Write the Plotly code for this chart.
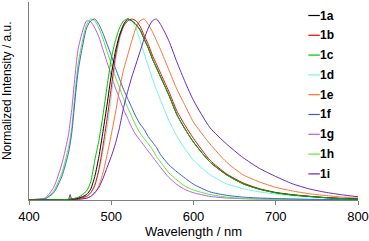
import plotly.graph_objects as go

wavelength = [400, 410, 420, 430, 440, 448, 450, 452, 460, 470, 475, 480, 485, 490, 495, 500,
              505, 510, 515, 520, 525, 530, 535, 540, 545, 550, 555, 560, 570, 580, 590, 600,
              620, 640, 660, 680, 700, 720, 740, 760, 780, 800]

s1a = [0, 0, 0, 0.001, 0.002, 0.003, 0.004, 0.005, 0.01, 0.03, 0.06, 0.13, 0.24, 0.38, 0.53, 0.69,
       0.82, 0.91, 0.97, 1.0, 0.99, 0.97, 0.94, 0.89, 0.84, 0.78, 0.73, 0.68, 0.58, 0.47, 0.39, 0.32,
       0.21, 0.14, 0.09, 0.06, 0.04, 0.028, 0.02, 0.013, 0.008, 0.005]
s1b = [0, 0, 0, 0.001, 0.002, 0.003, 0.004, 0.005, 0.008, 0.02, 0.04, 0.08, 0.17, 0.30, 0.45, 0.62,
       0.79, 0.90, 0.96, 0.99, 1.0, 0.99, 0.96, 0.91, 0.86, 0.80, 0.75, 0.70, 0.60, 0.49, 0.41, 0.34,
       0.22, 0.145, 0.095, 0.063, 0.042, 0.03, 0.021, 0.014, 0.009, 0.006]
s1c = [0, 0, 0, 0.001, 0.002, 0.004, 0.005, 0.006, 0.015, 0.05, 0.10, 0.22, 0.33, 0.47, 0.63, 0.78,
       0.88, 0.95, 0.99, 1.0, 0.99, 0.97, 0.94, 0.89, 0.84, 0.78, 0.73, 0.68, 0.58, 0.47, 0.39, 0.32,
       0.21, 0.14, 0.09, 0.06, 0.04, 0.028, 0.02, 0.013, 0.008, 0.005]
s1d = [0, 0, 0, 0.001, 0.002, 0.003, 0.004, 0.004, 0.006, 0.02, 0.04, 0.09, 0.16, 0.27, 0.40, 0.57,
       0.76, 0.88, 0.96, 0.99, 0.99, 0.95, 0.88, 0.81, 0.74, 0.67, 0.61, 0.55, 0.44, 0.35, 0.28, 0.22,
       0.14, 0.09, 0.063, 0.045, 0.033, 0.024, 0.017, 0.012, 0.008, 0.005]
s1e = [0, 0, 0, 0.001, 0.002, 0.003, 0.003, 0.004, 0.005, 0.01, 0.02, 0.04, 0.08, 0.15, 0.25, 0.36,
       0.48, 0.61, 0.72, 0.80, 0.88, 0.95, 0.99, 1.0, 0.97, 0.93, 0.88, 0.83, 0.72, 0.61, 0.52, 0.43,
       0.31, 0.21, 0.14, 0.10, 0.07, 0.05, 0.035, 0.025, 0.016, 0.01]
s1f = [0.001, 0.003, 0.007, 0.04, 0.13, 0.26, 0.31, 0.37, 0.72, 0.95, 0.99, 1.0, 0.97, 0.92, 0.86, 0.80,
       0.73, 0.67, 0.61, 0.56, 0.51, 0.46, 0.42, 0.39, 0.35, 0.32, 0.29, 0.25, 0.195, 0.155, 0.12, 0.087,
       0.045, 0.026, 0.016, 0.011, 0.008, 0.006, 0.004, 0.003, 0.002, 0.002]
s1g = [0.002, 0.005, 0.012, 0.07, 0.20, 0.36, 0.43, 0.50, 0.84, 0.99, 0.985, 0.95, 0.90, 0.83, 0.76, 0.69,
       0.62, 0.56, 0.50, 0.45, 0.40, 0.36, 0.33, 0.30, 0.27, 0.24, 0.21, 0.18, 0.125, 0.085, 0.057, 0.04,
       0.02, 0.011, 0.007, 0.005, 0.004, 0.003, 0.002, 0.002, 0.001, 0.001]
s1h = [0.001, 0.003, 0.008, 0.05, 0.15, 0.29, 0.34, 0.40, 0.76, 0.97, 1.0, 0.99, 0.95, 0.89, 0.82, 0.75,
       0.68, 0.62, 0.56, 0.51, 0.46, 0.41, 0.37, 0.34, 0.31, 0.28, 0.24, 0.21, 0.15, 0.11, 0.075, 0.055,
       0.03, 0.016, 0.009, 0.006, 0.004, 0.003, 0.002, 0.002, 0.001, 0.001]
s1i = [0, 0, 0, 0.001, 0.002, 0.003, 0.03, 0.003, 0.004, 0.01, 0.02, 0.04, 0.07, 0.12, 0.18, 0.24,
       0.31, 0.40, 0.51, 0.60, 0.68, 0.75, 0.82, 0.89, 0.95, 0.99, 1.0, 0.97, 0.88, 0.76, 0.65, 0.55,
       0.40, 0.31, 0.235, 0.175, 0.13, 0.09, 0.062, 0.043, 0.029, 0.018]

names = ["1a", "1b", "1c", "1d", "1e", "1f", "1g", "1h", "1i"]
series = [s1a, s1b, s1c, s1d, s1e, s1f, s1g, s1h, s1i]
colors = ["#000000", "#ff0000", "#00c000", "#70f5e0", "#ff7033",
          "#3d5ce6", "#c058f0", "#55ee22", "#6626c8"]
x_ticks = [400, 500, 600, 700, 800]

fig = go.Figure()
order = [6, 7, 5, 3, 4, 8, 1, 0, 2]
for i in order:
    fig.add_trace(go.Scatter(x=wavelength, y=series[i], mode="lines", name=names[i],
                             line=dict(color=colors[i], width=1, shape="spline", smoothing=0.6),
                             showlegend=False))

# legend drawn as short line keys plus bold labels
for k, (n, c) in enumerate(zip(names, colors)):
    ly = (200 - (15.5 + 19.8 * k)) / 198
    fig.add_shape(type="line", xref="paper", yref="paper", x0=0.849, x1=0.884, y0=ly, y1=ly,
                  line=dict(color=c, width=1.2))
    fig.add_annotation(xref="paper", yref="paper", x=0.882, y=ly,
                       xanchor="left", yanchor="middle", showarrow=False, borderpad=0,
                       text=f"<b>{n}</b>",
                       font=dict(family="Arial, Liberation Sans, sans-serif", size=12, color="#000"))

fig.add_annotation(xref="paper", yref="paper", x=0, xshift=-22, y=0.55, textangle=-90,
                   showarrow=False, xanchor="center", yanchor="middle",
                   text="Normalized Intensity / a.u.",
                   font=dict(family="Arial, Liberation Sans, sans-serif", size=12, color="#000"))

fig.update_layout(
    width=369, height=241,
    margin=dict(l=29, r=11, t=2, b=41),
    paper_bgcolor="white", plot_bgcolor="white",
    font=dict(family="Arial, Liberation Sans, sans-serif", size=13, color="#000"),
    xaxis=dict(range=[400, 800], tickvals=x_ticks, ticks="outside", ticklen=4,
               tickcolor="#808080", showline=True, linecolor="#808080", linewidth=1,
               showgrid=False, zeroline=False, automargin=False,
               title=dict(text="Wavelength / nm", font=dict(size=13), standoff=2),
               tickfont=dict(size=13)),
    yaxis=dict(range=[0, 1.094], showticklabels=False, ticks="", showline=True,
               linecolor="#808080", linewidth=1, showgrid=False, zeroline=False,
               automargin=False),
)

fig.write_html("out.html", config={"displayModeBar": False},
               post_script="document.body.style.margin='0';document.body.style.overflow='hidden';")
